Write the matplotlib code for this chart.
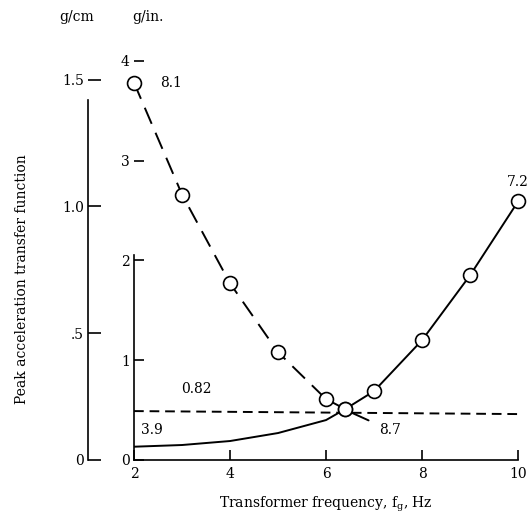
import matplotlib
matplotlib.use("Agg")
import matplotlib.pyplot as plt

plt.rcParams['font.family'] = 'DejaVu Serif'
plt.rcParams['font.size'] = 10

# dashed branch (open circles), g/in.
freq_dash = [2, 3, 4, 5, 6, 6.4]
acc_dash = [3.78, 2.66, 1.77, 1.08, 0.61, 0.51]

# solid branch, low part without markers
freq_solid_low = [2, 3, 4, 5, 6, 6.4]
acc_solid_low = [0.133, 0.15, 0.19, 0.27, 0.40, 0.51]

# solid branch with open circles
freq_solid = [6.4, 7, 8, 9, 10]
acc_solid = [0.51, 0.69, 1.20, 1.85, 2.59]

# horizontal dashed reference
freq_ref = [2, 10]
acc_ref = [0.49, 0.46]

xticks = [2, 4, 6, 8, 10]
yticks_in = [0, 1, 2, 3, 4]
yticks_cm = [0, 0.5, 1.0, 1.5]
ytick_cm_labels = ['0', '.5', '1.0', '1.5']

fig = plt.figure(figsize=(5.31, 5.22), dpi=100)
ax = fig.add_axes([0.2524, 0.1188, 0.7232, 0.7648])

ax.plot(freq_solid_low, acc_solid_low, color='black', lw=1.4)
ax.plot(freq_solid, acc_solid, color='black', lw=1.4, marker='o', ms=10,
        mfc='white', mec='black', mew=1.2, clip_on=False, zorder=3)
ax.plot(freq_dash, acc_dash, color='black', lw=1.4, dashes=(9, 5), marker='o',
        ms=10, mfc='white', mec='black', mew=1.2, clip_on=False, zorder=3)
ax.plot(freq_ref, acc_ref, color='black', lw=1.4, dashes=(5, 3))

# labels on curves
ax.text(2.55, 3.78, '8.1', va='center', ha='left')
ax.text(10, 2.72, '7.2', va='bottom', ha='center')
ax.text(3.3, 0.64, '0.82', va='bottom', ha='center')
ax.text(2.37, 0.30, '3.9', va='center', ha='center')
ax.annotate('8.7', xy=(6.55, 0.47), xytext=(7.33, 0.30), va='center', ha='center',
            arrowprops=dict(arrowstyle='-', color='black', lw=1.4,
                            shrinkA=6, shrinkB=0))

ax.set_xlim(2, 10)
ax.set_ylim(0, 4)
ax.set_xticks(xticks)
ax.set_yticks(yticks_in)
ax.tick_params(direction='in', length=7, width=1.2, pad=3)
ax.tick_params(axis='x', pad=5)
for s in ['top', 'right']:
    ax.spines[s].set_visible(False)
ax.spines['left'].set_bounds(0, 2.05)
ax.spines['left'].set_linewidth(1.2)
ax.spines['bottom'].set_linewidth(1.2)

# second scale in g/cm
sec = ax.secondary_yaxis(-0.1198, functions=(lambda v: v / 2.54, lambda v: v * 2.54))
sec.set_yticks(yticks_cm)
sec.set_yticklabels(ytick_cm_labels)
sec.tick_params(direction='in', length=9, width=1.2, pad=3)
sec.spines['left'].set_bounds(0, 1.42)
sec.spines['left'].set_linewidth(1.2)

ax.set_xlabel('Transformer frequency, f$_\\mathregular{g}$, Hz', labelpad=10)
fig.text(22 / 531, 1 - 279 / 522, 'Peak acceleration transfer function',
         rotation=90, ha='center', va='center')
fig.text(77 / 531, 1 - 17 / 522, 'g/cm', ha='center', va='center')
fig.text(148 / 531, 1 - 17 / 522, 'g/in.', ha='center', va='center')

fig.savefig('out.png', dpi=100)
